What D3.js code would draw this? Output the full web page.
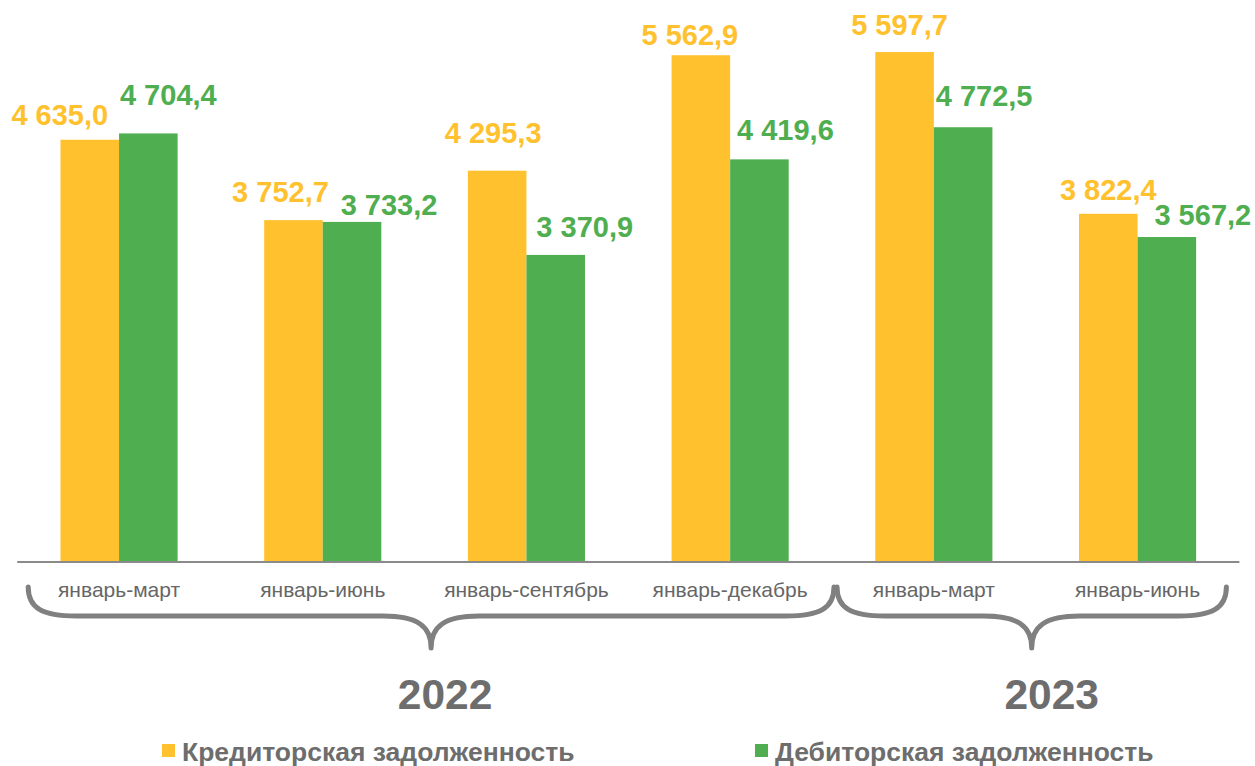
<!DOCTYPE html>
<html><head><meta charset="utf-8">
<script src="https://cdn.jsdelivr.net/npm/d3@7"></script>
<style>body{margin:0;background:#fff}svg{display:block}text{font-family:"Liberation Sans",Arial,sans-serif}</style>
</head><body>
<svg id="c" width="1255" height="766"></svg>
<script>
const categories = ["январь-март","январь-июнь","январь-сентябрь","январь-декабрь","январь-март","январь-июнь"];
const seriesNames = ["Кредиторская задолженность","Дебиторская задолженность"];
const kredit = [4635.0, 3752.7, 4295.3, 5562.9, 5597.7, 3822.4];
const debit  = [4704.4, 3733.2, 3370.9, 4419.6, 4772.5, 3567.2];
const years = ["2022","2023"];
const yearGroups = [[0,3],[4,5]];
const colors = ["#FFC12E","#4FAE50"];

// layout nudges for value labels (as placed in the original)
const labelDx = [[-30,-13,-4,-11,-5,0],[20,37,29,26,21,36]];
const labelGap = [[15,18,28,10,17,14],[28,7,18,19,21,12]];

const svg = d3.select("#c");
const base = 562;
const x0 = d3.scaleBand().domain(d3.range(categories.length)).range([17.2,1239.4]).paddingInner(0.425).paddingOuter(0.2125);
const x1 = d3.scaleBand().domain([0,1]).range([0,x0.bandwidth()]);
const y = d3.scaleLinear().domain([0,6000]).range([base, base-6000*0.0911]);
const series = [kredit, debit];
const fmt = v => d3.format(",.1f")(v).replace(/,/g," ").replace(".",",");

// bars
series.forEach((vals,s)=>{
  svg.append("g").selectAll("rect").data(vals).join("rect")
    .attr("x",(d,i)=>x0(i)+x1(s)).attr("width",x1.bandwidth())
    .attr("y",d=>y(d)).attr("height",d=>base-y(d)).attr("fill",colors[s]);
});
// value labels
series.forEach((vals,s)=>{
  svg.append("g").selectAll("text").data(vals).join("text")
    .attr("x",(d,i)=>x0(i)+x1(s)+x1.bandwidth()/2+labelDx[s][i])
    .attr("y",(d,i)=>y(d)-labelGap[s][i])
    .attr("text-anchor","middle").attr("font-size",29).attr("font-weight","bold")
    .attr("fill",colors[s]).text(fmt);
});
// axis
const ax = svg.append("g").attr("transform",`translate(0,${base})`)
  .call(d3.axisBottom(x0).tickSize(0).tickPadding(20).tickFormat(i=>categories[i]));
ax.select(".domain").attr("stroke","#8a8a8a").attr("stroke-width",2.2).attr("d","M17.2,0H1239.4");
ax.selectAll("text").attr("font-size",21).attr("fill","#666").attr("font-family","Liberation Sans, Arial, sans-serif");

// braces
const step = x0.step();
const cx = i => x0(i)+x0.bandwidth()/2;
const insets = [[11,2],[5,-13]];
const yearDx = [14,20];
const hy = 616, topY = 587, tipY = 648;
yearGroups.forEach((g,k)=>{
  const a = cx(g[0])-step/2+insets[k][0];
  const b = cx(g[1])+step/2+insets[k][1];
  const t = (a+b)/2;
  const p = `M${a},${topY} C${a},${hy-8} ${a+14},${hy} ${a+48},${hy} L${t-48},${hy} C${t-14},${hy} ${t},${hy+10} ${t},${tipY} C${t},${hy+10} ${t+14},${hy} ${t+48},${hy} L${b-48},${hy} C${b-14},${hy} ${b},${hy-8} ${b},${topY}`;
  svg.append("path").attr("d",p).attr("fill","none").attr("stroke","#808080").attr("stroke-width",5).attr("stroke-linecap","round").attr("stroke-linejoin","round");
  svg.append("text").attr("x",t+yearDx[k]).attr("y",709).attr("text-anchor","middle")
    .attr("font-size",42.5).attr("font-weight","bold").attr("fill","#6d6d6d").text(years[k]);
});

// legend
const legX = [162, 755];
seriesNames.forEach((n,s)=>{
  svg.append("rect").attr("x",legX[s]).attr("y",744).attr("width",13).attr("height",13).attr("fill",colors[s]);
  svg.append("text").attr("x",legX[s]+20).attr("y",761).attr("font-size",26.5).attr("font-weight","bold").attr("fill","#6d6d6d").text(n);
});
</script>
</body></html>
